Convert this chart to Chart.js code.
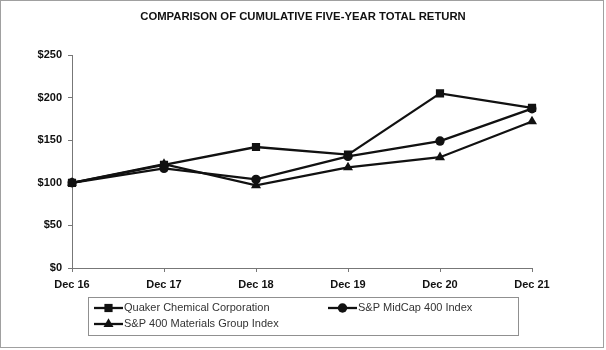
<!DOCTYPE html>
<html>
<head>
<meta charset="utf-8">
<script src="https://cdn.jsdelivr.net/npm/chart.js@4"></script>
<style>
  html, body { margin: 0; padding: 0; background: #fff; }
  #wrap { width: 606px; height: 350px; }
</style>
</head>
<body>
<div id="wrap"><canvas id="grafico" width="606" height="350"></canvas></div>
<script>
// datos
const anios = ['Dec 16', 'Dec 17', 'Dec 18', 'Dec 19', 'Dec 20', 'Dec 21'];
const quaker = [100, 121, 142, 133, 205, 188];
const midcap = [100, 117, 104, 131, 149, 187];
const materiales = [100, 122, 97, 118, 130, 172];
const nombres = ['Quaker Chemical Corporation', 'S&P MidCap 400 Index', 'S&P 400 Materials Group Index'];
const marcadores = ['rect', 'circle', 'triangle'];
const ticksY = [0, 50, 100, 150, 200, 250];
const titulo = 'COMPARISON OF CUMULATIVE FIVE-YEAR TOTAL RETURN';

const fuente = 'Arial, "Liberation Sans", sans-serif';

function radio(marca) {
    return marca === 'circle' ? 4.7 : 5.8;
}

const fondo = {
    id: 'fondo',
    beforeDraw: (chart) => {
        const { ctx, width, height } = chart;
        ctx.save();
        ctx.fillStyle = 'white';
        ctx.fillRect(0, 0, width, height);
        ctx.restore();
    },
    afterDraw: (chart) => {
        const ctx = chart.ctx;
        ctx.save();
        // borde exterior
        ctx.strokeStyle = '#a0a0a0';
        ctx.lineWidth = 1;
        ctx.strokeRect(0.5, 0.5, 603, 347);

        // titulo
        ctx.fillStyle = '#111';
        ctx.font = 'bold 11.3px ' + fuente;
        ctx.textAlign = 'center';
        ctx.textBaseline = 'middle';
        ctx.fillText(titulo, 303, 17);

        // leyenda
        ctx.strokeStyle = '#909090';
        ctx.lineWidth = 1;
        ctx.strokeRect(88.5, 297.5, 430, 38);
        const items = [
            { x: 94, y: 308 },
            { x: 328, y: 308 },
            { x: 94, y: 324 }
        ];
        chart.data.datasets.forEach((ds, i) => {
            const it = items[i];
            ctx.strokeStyle = '#111';
            ctx.lineWidth = 2.3;
            ctx.beginPath();
            ctx.moveTo(it.x, it.y);
            ctx.lineTo(it.x + 29, it.y);
            ctx.stroke();
            ctx.fillStyle = '#111';
            Chart.helpers.drawPoint(ctx, { pointStyle: ds.pointStyle, radius: radio(ds.pointStyle), rotation: 0, borderWidth: 0 }, it.x + 14.5, it.y);
            ctx.fillStyle = '#333';
            ctx.font = '11px ' + fuente;
            ctx.textBaseline = 'middle';
            ctx.textAlign = 'left';
            ctx.fillText(ds.label, it.x + 30, it.y);
        });
        ctx.restore();
    }
};

function serie(nombre, datos, marca) {
    return {
        label: nombre,
        data: datos,
        borderColor: '#111',
        backgroundColor: '#111',
        borderWidth: 2.3,
        pointStyle: marca,
        pointRadius: radio(marca),
        pointHoverRadius: radio(marca),
        pointBorderWidth: 0,
        tension: 0
    };
}

const ctx = document.getElementById('grafico').getContext('2d');
const myChart = new Chart(ctx, {
    type: 'line',
    data: {
        labels: anios,
        datasets: [
            serie(nombres[0], quaker, marcadores[0]),
            serie(nombres[1], midcap, marcadores[1]),
            serie(nombres[2], materiales, marcadores[2])
        ]
    },
    options: {
        responsive: false,
        animation: false,
        layout: { padding: { left: 0, right: 74, top: 55, bottom: 52 } },
        plugins: {
            legend: { display: false },
            tooltip: { enabled: false },
            title: { display: false }
        },
        scales: {
            x: {
                offset: false,
                afterFit: (s) => { s.height = 30; },
                grid: { display: true, drawOnChartArea: false, drawTicks: true, tickLength: 4, color: '#777' },
                border: { display: true, color: '#777', width: 1 },
                ticks: { color: '#111', padding: 6, maxRotation: 0, font: { family: fuente, size: 11, weight: 'bold' } }
            },
            y: {
                min: 0,
                max: 250,
                afterFit: (s) => { s.width = 72; },
                afterBuildTicks: (s) => { s.ticks = ticksY.map(v => ({ value: v })); },
                grid: { display: true, drawOnChartArea: false, drawTicks: true, tickLength: 4, color: '#777' },
                border: { display: true, color: '#777', width: 1 },
                ticks: {
                    color: '#111',
                    padding: 6,
                    font: { family: fuente, size: 11, weight: 'bold' },
                    callback: (v) => '$' + v
                }
            }
        }
    },
    plugins: [fondo]
});
</script>
</body>
</html>
